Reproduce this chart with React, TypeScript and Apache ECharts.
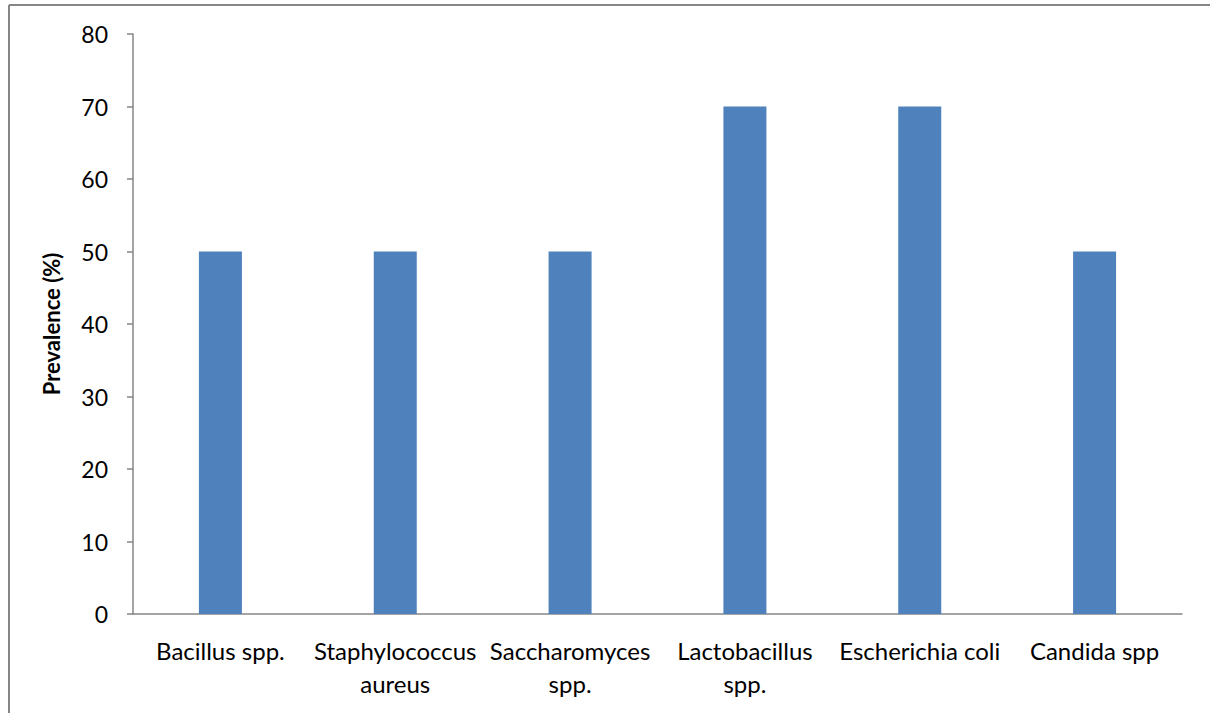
import React, { useEffect, useRef } from "react";
import * as echarts from "echarts";

const categories = [
  "Bacillus spp.",
  "Staphylococcus\naureus",
  "Saccharomyces\nspp.",
  "Lactobacillus\nspp.",
  "Escherichia coli",
  "Candida spp",
];
const prevalence = [50, 50, 50, 70, 70, 50];
const yTicks = { min: 0, max: 80, interval: 10 };
const yAxisTitle = "Prevalence (%)";

const FONT = "Lato";

export default function App() {
  const ref = useRef<HTMLDivElement>(null);
  useEffect(() => {
    document.body.style.margin = "0";
    const chart = echarts.init(ref.current!, undefined, { renderer: "svg" });
    chart.setOption({
      animation: false,
      backgroundColor: "#ffffff",
      textStyle: { fontFamily: FONT },
      grid: { left: 133, right: 28, top: 34, bottom: 99, containLabel: false },
      graphic: [
        {
          type: "line",
          shape: { x1: 9, y1: 5, x2: 1210, y2: 5 },
          style: { stroke: "#868686", lineWidth: 2 },
        },
        {
          type: "line",
          shape: { x1: 9, y1: 5, x2: 9, y2: 713 },
          style: { stroke: "#868686", lineWidth: 2 },
        },
      ],
      xAxis: {
        type: "category",
        data: categories,
        axisLine: { show: true, lineStyle: { color: "#868686", width: 1.5 } },
        axisTick: { show: false },
        axisLabel: {
          interval: 0,
          margin: 20,
          color: "#000000",
          fontSize: 24,
          lineHeight: 33,
          fontFamily: FONT,
        },
      },
      yAxis: {
        type: "value",
        min: yTicks.min,
        max: yTicks.max,
        interval: yTicks.interval,
        name: yAxisTitle,
        nameLocation: "middle",
        nameGap: 71,
        nameTextStyle: { color: "#000000", fontSize: 22, fontWeight: "bold", fontFamily: FONT },
        axisLine: { show: true, lineStyle: { color: "#868686", width: 1.5 } },
        axisTick: { show: true, inside: false, length: 6, lineStyle: { color: "#868686", width: 1.5 } },
        axisLabel: { margin: 25, color: "#000000", fontSize: 23, fontFamily: FONT },
        splitLine: { show: false },
      },
      series: [
        {
          type: "bar",
          data: prevalence,
          barWidth: 43,
          itemStyle: { color: "#4F81BD" },
        },
      ],
    });
    return () => chart.dispose();
  }, []);
  return <div ref={ref} style={{ position: "absolute", left: 0, top: 0, width: 1210, height: 713 }} />;
}
